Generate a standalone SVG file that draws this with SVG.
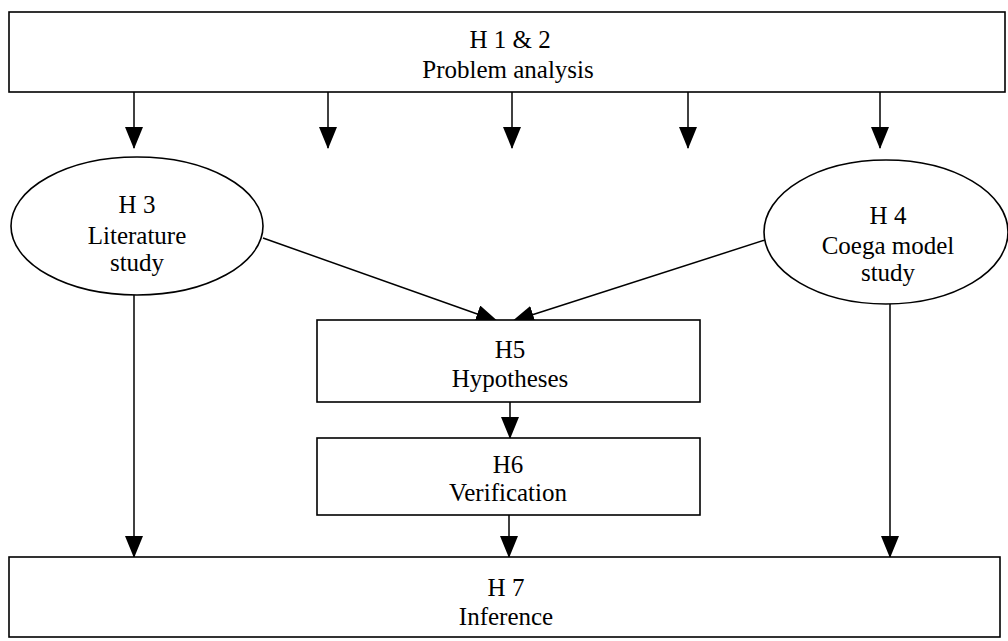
<svg xmlns="http://www.w3.org/2000/svg" width="1008" height="641" viewBox="0 0 1008 641">
<style>
.box{fill:#fff;stroke:#000;stroke-width:1.6}
.t{font-family:"Liberation Serif","Times New Roman",serif;font-size:25px;fill:#000;text-anchor:middle}
.c{stroke:#000;stroke-width:1.5;fill:none;marker-end:url(#ah)}
</style>
<defs>
<marker id="ah" markerUnits="userSpaceOnUse" markerWidth="22" markerHeight="18" refX="21" refY="9" orient="auto">
<path d="M0,0 L22,9 L0,18 Z" fill="#000"/>
</marker>
</defs>
<g id="connectors">
<line class="c" x1="134" y1="92" x2="134" y2="148"/>
<line class="c" x1="328" y1="92" x2="328" y2="148"/>
<line class="c" x1="512" y1="92" x2="512" y2="148"/>
<line class="c" x1="688" y1="92" x2="688" y2="148"/>
<line class="c" x1="880" y1="92" x2="880" y2="148"/>
<line class="c" x1="263" y1="238" x2="497" y2="321"/>
<line class="c" x1="765" y1="240" x2="513" y2="321"/>
<line class="c" x1="510" y1="402" x2="510" y2="438"/>
<line class="c" x1="134" y1="295" x2="134" y2="557"/>
<line class="c" x1="890" y1="304" x2="890" y2="557"/>
<line class="c" x1="509" y1="515" x2="509" y2="557"/>
</g>
<g id="h12">
<rect class="box" x="9" y="12" width="996" height="80"/>
<text class="t" x="510" y="48">H 1 &amp; 2</text>
<text class="t" x="508" y="78">Problem analysis</text>
</g>
<g id="h3">
<ellipse class="box" cx="137" cy="226" rx="126" ry="69"/>
<text class="t" x="137" y="213">H 3</text>
<text class="t" x="137" y="244">Literature</text>
<text class="t" x="137" y="271">study</text>
</g>
<g id="h4">
<ellipse class="box" cx="886" cy="232" rx="122" ry="72"/>
<text class="t" x="888" y="224">H 4</text>
<text class="t" x="888" y="254">Coega model</text>
<text class="t" x="888" y="281">study</text>
</g>
<g id="h5">
<rect class="box" x="317" y="320" width="383" height="82"/>
<text class="t" x="510" y="358">H5</text>
<text class="t" x="510" y="387">Hypotheses</text>
</g>
<g id="h6">
<rect class="box" x="317" y="438" width="383" height="77"/>
<text class="t" x="508" y="473">H6</text>
<text class="t" x="508" y="501">Verification</text>
</g>
<g id="h7">
<rect class="box" x="9" y="557" width="991" height="80"/>
<text class="t" x="506" y="596">H 7</text>
<text class="t" x="506" y="625">Inference</text>
</g>
</svg>
